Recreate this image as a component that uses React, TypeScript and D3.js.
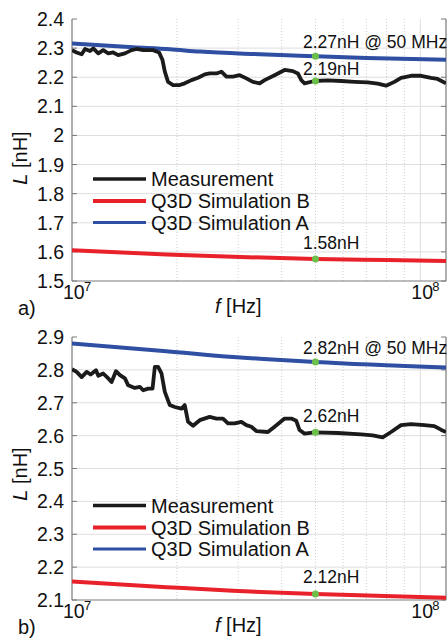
import React from "react";
import * as d3 from "d3";

// ---------- data (frequency in MHz, inductance in nH) ----------
const measA: [number, number][] = [
  [10.0, 2.293], [10.31, 2.285], [10.66, 2.279], [10.9, 2.297], [11.26, 2.29], [11.51, 2.299],
  [11.9, 2.282], [12.29, 2.293], [12.71, 2.282], [13.13, 2.285], [13.57, 2.276], [14.19, 2.282],
  [14.83, 2.293], [15.32, 2.297], [16.01, 2.293], [17.1, 2.293], [17.79, 2.285], [18.19, 2.259],
  [18.47, 2.219], [18.87, 2.184], [19.51, 2.173], [20.39, 2.173], [21.07, 2.179], [22.03, 2.19],
  [23.01, 2.198], [24.05, 2.21], [24.85, 2.213], [25.98, 2.213], [26.85, 2.219], [27.75, 2.202],
  [28.99, 2.202], [30.3, 2.207], [31.66, 2.196], [33.07, 2.184], [34.57, 2.179], [35.73, 2.19],
  [38.16, 2.207], [40.77, 2.225], [43.06, 2.221], [44.51, 2.213], [45.52, 2.19], [46.52, 2.179],
  [49.69, 2.187], [54.26, 2.189], [59.27, 2.187], [64.71, 2.184], [70.63, 2.182], [75.45, 2.178],
  [79.74, 2.171], [84.23, 2.184], [88.04, 2.198], [94.05, 2.205], [100.5, 2.205], [107.3, 2.198],
  [112.1, 2.194], [118.5, 2.179],
];
const simAa: [number, number][] = [
  [10, 2.316], [15, 2.303], [19.1, 2.296], [23.3, 2.288], [34.6, 2.279], [50, 2.272], [70, 2.266], [118.5, 2.26],
];
const simBa: [number, number][] = [
  [10, 1.606], [18.67, 1.591], [29, 1.583], [50, 1.576], [80, 1.572], [118.5, 1.569],
];
const measB: [number, number][] = [
  [10.0, 2.802], [10.31, 2.794], [10.66, 2.778], [11.02, 2.794], [11.31, 2.786], [11.72, 2.799],
  [11.9, 2.782], [12.29, 2.789], [12.71, 2.774], [12.99, 2.763], [13.37, 2.796], [13.73, 2.784],
  [14.19, 2.774], [14.5, 2.753], [15.15, 2.745], [15.66, 2.748], [16.01, 2.738], [16.54, 2.743],
  [17.03, 2.743], [17.29, 2.809], [17.67, 2.809], [18.07, 2.789], [18.47, 2.733], [19.09, 2.693],
  [19.73, 2.687], [20.62, 2.682], [21.07, 2.693], [21.54, 2.642], [22.26, 2.63], [23.27, 2.647],
  [24.85, 2.657], [25.98, 2.652], [27.13, 2.652], [28.04, 2.637], [29.31, 2.637], [30.64, 2.642],
  [31.66, 2.632], [32.73, 2.627], [33.82, 2.614], [36.51, 2.611], [38.16, 2.627], [40.77, 2.652],
  [42.61, 2.652], [44.04, 2.645], [45.01, 2.617], [46.52, 2.606], [49.69, 2.61], [57.95, 2.608],
  [67.62, 2.604], [73.01, 2.601], [77.98, 2.595], [82.42, 2.611], [88.04, 2.632], [94.05, 2.635],
  [102.7, 2.632], [109.7, 2.629], [114.6, 2.618], [118.5, 2.611],
];
const simAb: [number, number][] = [
  [10, 2.88], [18.67, 2.857], [29, 2.839], [34.6, 2.834], [50, 2.824], [118.5, 2.807],
];
const simBb: [number, number][] = [
  [10, 2.156], [18.67, 2.139], [29, 2.128], [50, 2.118], [118.5, 2.107],
];

const xDomainMHz: [number, number] = [10, 118.5];
const xMajorTicks = [10, 100];
const xMajorLabels = ["7", "8"];
const xMinorTicks = [20, 30, 40, 50, 60, 70, 80, 90];

const yTicksA = [1.5, 1.6, 1.7, 1.8, 1.9, 2.0, 2.1, 2.2, 2.3, 2.4];
const yTicksB = [2.1, 2.2, 2.3, 2.4, 2.5, 2.6, 2.7, 2.8, 2.9];

const legendNames = ["Measurement", "Q3D Simulation B", "Q3D Simulation A"];

const markersA: [number, number][] = [[50, 2.272], [50, 2.187], [50, 1.576]];
const markersB: [number, number][] = [[50, 2.824], [50, 2.61], [50, 2.118]];
const annotA = ["2.27nH @ 50 MHz", "2.19nH", "1.58nH"];
const annotB = ["2.82nH @ 50 MHz", "2.62nH", "2.12nH"];

// ---------- styles ----------
const FONT = "'Liberation Sans', Arial, Helvetica, sans-serif";
const C_BLACK = "#1b1b1b";
const C_RED = "#e8212b";
const C_BLUE = "#2f4fa2";
const C_GREEN = "#6cc04a";
const C_GRID = "#dedede";
const C_AXIS = "#7a7a7a";

const X_LEFT = 72;
const X_RIGHT = 446;

type PanelProps = {
  id: string;
  yDomain: [number, number];
  yRange: [number, number];
  yTicks: number[];
  meas: [number, number][];
  simA: [number, number][];
  simB: [number, number][];
  markers: [number, number][];
  annots: string[];
  annotYs: number[];
  legendYs: number[];
  yLabelY: number;
  panelLabel: string;
};

function Panel(p: PanelProps) {
  const x = d3.scaleLog().domain(xDomainMHz).range([X_LEFT, X_RIGHT]);
  const y = d3.scaleLinear().domain(p.yDomain).range(p.yRange);
  const yBottom = p.yRange[0];
  const yTop = p.yRange[1];
  const line = d3.line<[number, number]>().x((d) => x(d[0])).y((d) => y(d[1]));
  const smooth = d3
    .line<[number, number]>()
    .x((d) => x(d[0]))
    .y((d) => y(d[1]))
    .curve(d3.curveMonotoneX);
  const clipId = `clip-${p.id}`;
  const fmt = (v: number) => (Math.abs(v - Math.round(v)) < 1e-9 ? String(Math.round(v)) : v.toFixed(1));

  return (
    <g>
      <defs>
        <clipPath id={clipId}>
          <rect x={X_LEFT} y={yTop - 10} width={X_RIGHT - X_LEFT} height={yBottom - yTop + 10} />
        </clipPath>
      </defs>
      {/* horizontal grid */}
      {p.yTicks.slice(1, -1).map((t) => (
        <line key={"hg" + t} x1={X_LEFT} x2={X_RIGHT} y1={y(t)} y2={y(t)} stroke={C_GRID} strokeWidth={1} />
      ))}
      {/* vertical minor grid */}
      {xMinorTicks.map((t) => (
        <line
          key={"vg" + t}
          x1={x(t)}
          x2={x(t)}
          y1={yTop}
          y2={yBottom}
          stroke="#cfcfcf"
          strokeWidth={1}
          strokeDasharray="1,2"
        />
      ))}
      <line x1={x(100)} x2={x(100)} y1={yTop} y2={yBottom} stroke={C_GRID} strokeWidth={1} />
      {/* axes */}
      <line x1={X_LEFT} x2={X_LEFT} y1={yTop} y2={yBottom} stroke={C_AXIS} strokeWidth={1.2} />
      <line x1={X_RIGHT} x2={X_RIGHT} y1={yTop} y2={yBottom} stroke={C_AXIS} strokeWidth={1.2} />
      <line x1={X_LEFT} x2={X_RIGHT} y1={yBottom} y2={yBottom} stroke={C_AXIS} strokeWidth={1.2} />
      {p.yTicks.map((t) => (
        <g key={"yt" + t}>
          <line x1={X_LEFT} x2={X_LEFT + 5} y1={y(t)} y2={y(t)} stroke={C_AXIS} strokeWidth={1} />
          <line x1={X_RIGHT - 5} x2={X_RIGHT} y1={y(t)} y2={y(t)} stroke={C_AXIS} strokeWidth={1} />
          <text x={X_LEFT - 8} y={y(t)} dy="0.36em" textAnchor="end" fontSize={19.5} fill="#111">
            {fmt(t)}
          </text>
        </g>
      ))}
      {xMajorTicks.map((t, i) => (
        <g key={"xt" + t}>
          <text x={x(t) - 9} y={yBottom + 18} textAnchor="start" fontSize={19.5} fill="#111">
            10
          </text>
          <text x={x(t) + 12} y={yBottom + 10} textAnchor="start" fontSize={13} fill="#111">
            {xMajorLabels[i]}
          </text>
        </g>
      ))}
      {/* series */}
      <g clipPath={`url(#${clipId})`}>
        <path d={smooth(p.simB) || ""} fill="none" stroke={C_RED} strokeWidth={4} />
        <path d={smooth(p.simA) || ""} fill="none" stroke={C_BLUE} strokeWidth={4} />
        <path d={line(p.meas) || ""} fill="none" stroke={C_BLACK} strokeWidth={3.8} strokeLinejoin="round" />
      </g>
      {/* markers & annotations */}
      {p.markers.map((m, i) => (
        <circle key={"mk" + i} cx={x(m[0])} cy={y(m[1])} r={3.5} fill={C_GREEN} />
      ))}
      {p.annots.map((a, i) => (
        <text key={"an" + i} x={x(50) - 12.5} y={p.annotYs[i]} fontSize={17.5} fill="#111">
          {a}
        </text>
      ))}
      {/* legend */}
      {legendNames.map((n, i) => (
        <g key={"lg" + i}>
          <line
            x1={93}
            x2={146}
            y1={p.legendYs[i]}
            y2={p.legendYs[i]}
            stroke={[C_BLACK, C_RED, C_BLUE][i]}
            strokeWidth={[3.5, 4, 3][i]}
          />
          <text x={151} y={p.legendYs[i]} dy="0.36em" fontSize={20} fill="#111">
            {n}
          </text>
        </g>
      ))}
      {/* axis labels */}
      <text
        transform={`translate(27,${p.yLabelY}) rotate(-90)`}
        textAnchor="middle"
        fontSize={20}
        fill="#111"
      >
        <tspan fontStyle="italic">L</tspan> [nH]
      </text>
      <text x={215} y={yBottom + 32} fontSize={20} fill="#111">
        <tspan fontStyle="italic">f</tspan> [Hz]
      </text>
      <text x={18} y={yBottom + 34} fontSize={20} fill="#111">
        {p.panelLabel}
      </text>
    </g>
  );
}

export default function App() {
  return (
    <svg
      width={447}
      height={640}
      viewBox="0 0 447 640"
      style={{ position: "absolute", left: 0, top: 0, background: "#fff" }}
      fontFamily={FONT}
    >
      <rect x={0} y={0} width={447} height={640} fill="#fff" />
      <Panel
        id="a"
        yDomain={[1.5, 2.4]}
        yRange={[281, 19]}
        yTicks={yTicksA}
        meas={measA}
        simA={simAa}
        simB={simBa}
        markers={markersA}
        annots={annotA}
        annotYs={[48, 75, 249]}
        legendYs={[179, 201, 222.5]}
        yLabelY={158}
        panelLabel="a)"
      />
      <Panel
        id="b"
        yDomain={[2.1, 2.9]}
        yRange={[600, 337]}
        yTicks={yTicksB}
        meas={measB}
        simA={simAb}
        simB={simBb}
        markers={markersB}
        annots={annotB}
        annotYs={[354, 421.5, 582.5]}
        legendYs={[505.5, 527.5, 549]}
        yLabelY={474}
        panelLabel="b)"
      />
    </svg>
  );
}
